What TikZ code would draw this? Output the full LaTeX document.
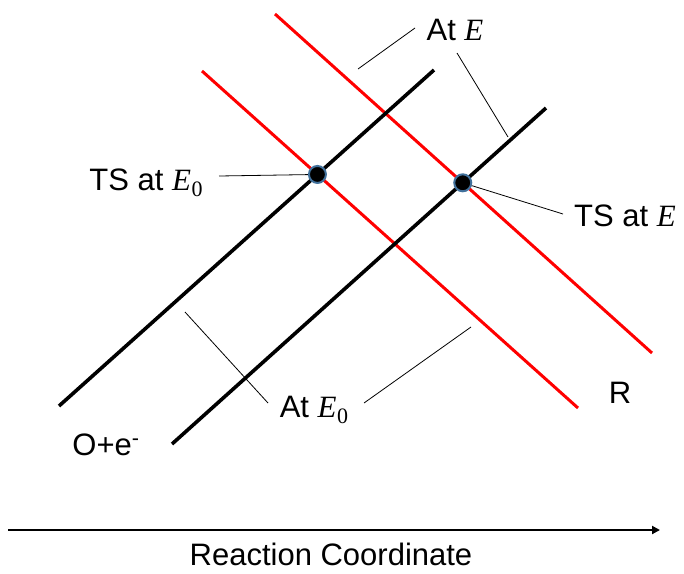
\documentclass[tikz,border=0pt]{standalone}
\usepackage{fontspec}
\setmainfont{Liberation Sans}
\newfontfamily\varfont{Liberation Serif}
\newcommand{\Evar}{{\varfont\itshape E}}
\newcommand{\Ezero}{{\varfont\itshape E\kern0.02em\raisebox{-0.22em}{\upshape\fontsize{22}{24}\selectfont 0}}}
\usetikzlibrary{arrows.meta}
\definecolor{tsblue}{RGB}{65,113,156}
\begin{document}
\begin{tikzpicture}[x=1pt,y=-1pt,
  blk/.style={line width=3.6pt,black},
  rd/.style={line width=3pt,red},
  leader/.style={line width=0.8pt,black},
  tsdot/.style={circle,fill=black,draw=tsblue,line width=2pt,minimum size=17pt,inner sep=0pt},
  lbl/.style={font=\fontsize{31}{36}\selectfont,inner sep=0pt,anchor=base},
  axis/.style={line width=2pt,-{Triangle[length=8pt,width=8pt]}}]
\useasboundingbox (0,0) rectangle (684,573);
% curve end points
\coordinate (b1s) at (59,406);  \coordinate (b1e) at (434,70);
\coordinate (b2s) at (172,444); \coordinate (b2e) at (546,108);
\coordinate (r1s) at (202,71);  \coordinate (r1e) at (578,408);
\coordinate (r2s) at (275,14);  \coordinate (r2e) at (652,353);
% curves
\draw[rd] (r1s) -- (r1e);
\draw[rd] (r2s) -- (r2e);
\draw[blk] (b1s) -- (b1e);
\draw[blk] (b2s) -- (b2e);
% transition states
\node[tsdot] (ts1) at (intersection of b1s--b1e and r1s--r1e) {};
\node[tsdot] (ts2) at (intersection of b2s--b2e and r2s--r2e) {};
% labels
\node[lbl] (atE) at (455,40) {At \Evar};
\node[lbl] (tsE0) at (146,190) {TS at \Ezero};
\node[lbl] (tsE) at (625,226) {TS at \Evar};
\node[lbl] (atE0) at (314,417) {At \Ezero};
\node[lbl] (R) at (620,403) {R};
\node[lbl] (Oe) at (106,455) {O+e\textsuperscript{-}};
\node[lbl] (rc) at (331,565) {Reaction Coordinate};
% leader lines
\coordinate (atEa1) at (415,28);  \coordinate (atEb1) at (358,69);
\coordinate (atEa2) at (457,53);  \coordinate (atEb2) at (508,137);
\coordinate (tsE0a) at (219,176);
\coordinate (tsEa) at (563,214);
\coordinate (atE0a1) at (268,403); \coordinate (atE0b1) at (185,312);
\coordinate (atE0a2) at (364,403); \coordinate (atE0b2) at (471,327);
\draw[leader] (atEa1) -- (atEb1);
\draw[leader] (atEa2) -- (atEb2);
\draw[leader] (tsE0a) -- (ts1);
\draw[leader] (ts2) -- (tsEa);
\draw[leader] (atE0a1) -- (atE0b1);
\draw[leader] (atE0a2) -- (atE0b2);
% axis
\coordinate (ax0) at (8,530); \coordinate (ax1) at (660,530);
\draw[axis] (ax0) -- (ax1);
\end{tikzpicture}
\end{document}
